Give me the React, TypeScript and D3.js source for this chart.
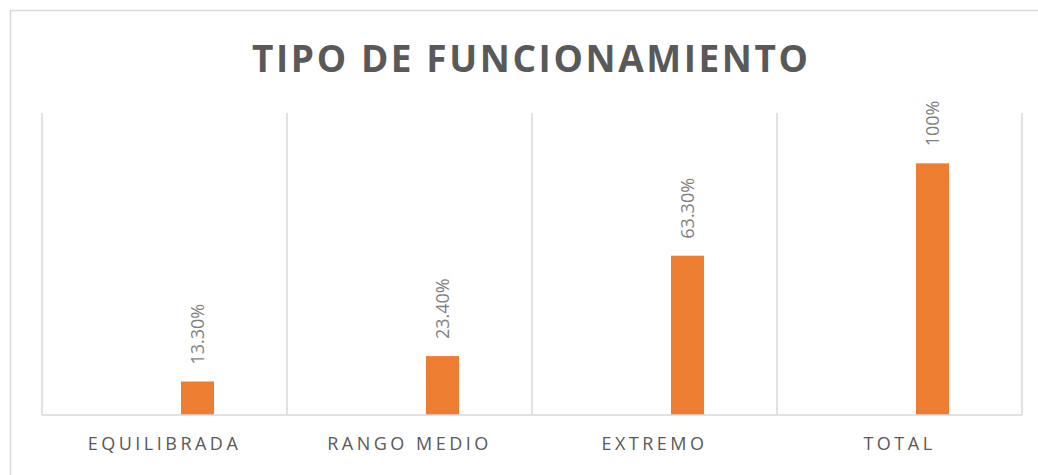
import React, { useEffect, useRef } from "react";
import * as d3 from "d3";

const categories = ["EQUILIBRADA", "RANGO MEDIO", "EXTREMO", "TOTAL"];
const seriesKeys = ["vacia1", "vacia2", "porcentaje"];
const percentValues = [0.133, 0.234, 0.633, 1.0];
const valueLabels = ["13.30%", "23.40%", "63.30%", "100%"];
const titleText = "TIPO DE FUNCIONAMIENTO";
const yMax = 1.2;

const W = 1038;
const H = 475;
const margin = { top: 113, right: 16, bottom: 60, left: 42 };

const App = () => {
  const ref = useRef<SVGSVGElement>(null);

  useEffect(() => {
    document.body.style.margin = "0";
    const svg = d3.select(ref.current);
    svg.selectAll("*").remove();

    const x = d3
      .scaleBand()
      .domain(categories)
      .range([margin.left, W - margin.right])
      .padding(0);

    // Excel style clustered bars (3 series, only the last one has data)
    const x1 = d3
      .scaleBand()
      .domain(seriesKeys)
      .range([0, x.bandwidth()])
      .paddingInner(0)
      .paddingOuter(2.21);

    const y = d3
      .scaleLinear()
      .domain([0, yMax])
      .range([H - margin.bottom, margin.top]);

    // outer chart border
    svg
      .append("rect")
      .attr("x", 10.5)
      .attr("y", 10.5)
      .attr("width", W + 20)
      .attr("height", H + 20)
      .attr("fill", "#fff")
      .attr("stroke", "#d9d9d9")
      .attr("stroke-width", 1.5);

    svg
      .append("text")
      .attr("x", 530)
      .attr("y", 72)
      .attr("text-anchor", "middle")
      .attr("font-family", "'Open Sans', sans-serif")
      .attr("font-weight", 700)
      .attr("font-size", 37)
      .attr("fill", "#595959")
      .attr("textLength", 556)
      .attr("lengthAdjust", "spacing")
      .text(titleText);

    // vertical gridlines at category boundaries
    const bounds = categories.map(c => x(c) as number).concat([W - margin.right]);
    svg
      .append("g")
      .selectAll("line")
      .data(bounds)
      .enter()
      .append("line")
      .attr("x1", d => d)
      .attr("x2", d => d)
      .attr("y1", y(yMax))
      .attr("y2", y(0))
      .attr("stroke", "#d9d9d9")
      .attr("stroke-width", 1.5);

    const g = svg
      .append("g")
      .selectAll("g")
      .data(categories)
      .enter()
      .append("g")
      .attr("transform", d => "translate(" + x(d) + ",0)");

    g.append("rect")
      .attr("x", () => x1("porcentaje") as number)
      .attr("y", (d, i) => y(percentValues[i]))
      .attr("width", x1.bandwidth())
      .attr("height", (d, i) => y(0) - y(percentValues[i]))
      .attr("fill", "#ed7d31");

    g.append("text")
      .attr("transform", (d, i) => {
        const cx = (x1("porcentaje") as number) + x1.bandwidth() / 2;
        return "translate(" + cx + "," + (y(percentValues[i]) - 17) + ") rotate(-90)";
      })
      .attr("dy", "0.36em")
      .attr("font-family", "'Open Sans', sans-serif")
      .attr("font-size", 18)
      .attr("fill", "#7f7f7f")
      .text((d, i) => valueLabels[i]);

    g.append("text")
      .attr("x", x.bandwidth() / 2)
      .attr("y", 450)
      .attr("text-anchor", "middle")
      .attr("font-family", "'Open Sans', sans-serif")
      .attr("font-size", 18)
      .attr("letter-spacing", "3.5px")
      .attr("fill", "#595959")
      .text(d => d);

    // baseline
    svg
      .append("line")
      .attr("x1", margin.left)
      .attr("x2", W - margin.right)
      .attr("y1", y(0))
      .attr("y2", y(0))
      .attr("stroke", "#d9d9d9")
      .attr("stroke-width", 1.5);
  }, []);

  return <svg ref={ref} width={W} height={H} style={{ display: "block" }} />;
};

export default App;
